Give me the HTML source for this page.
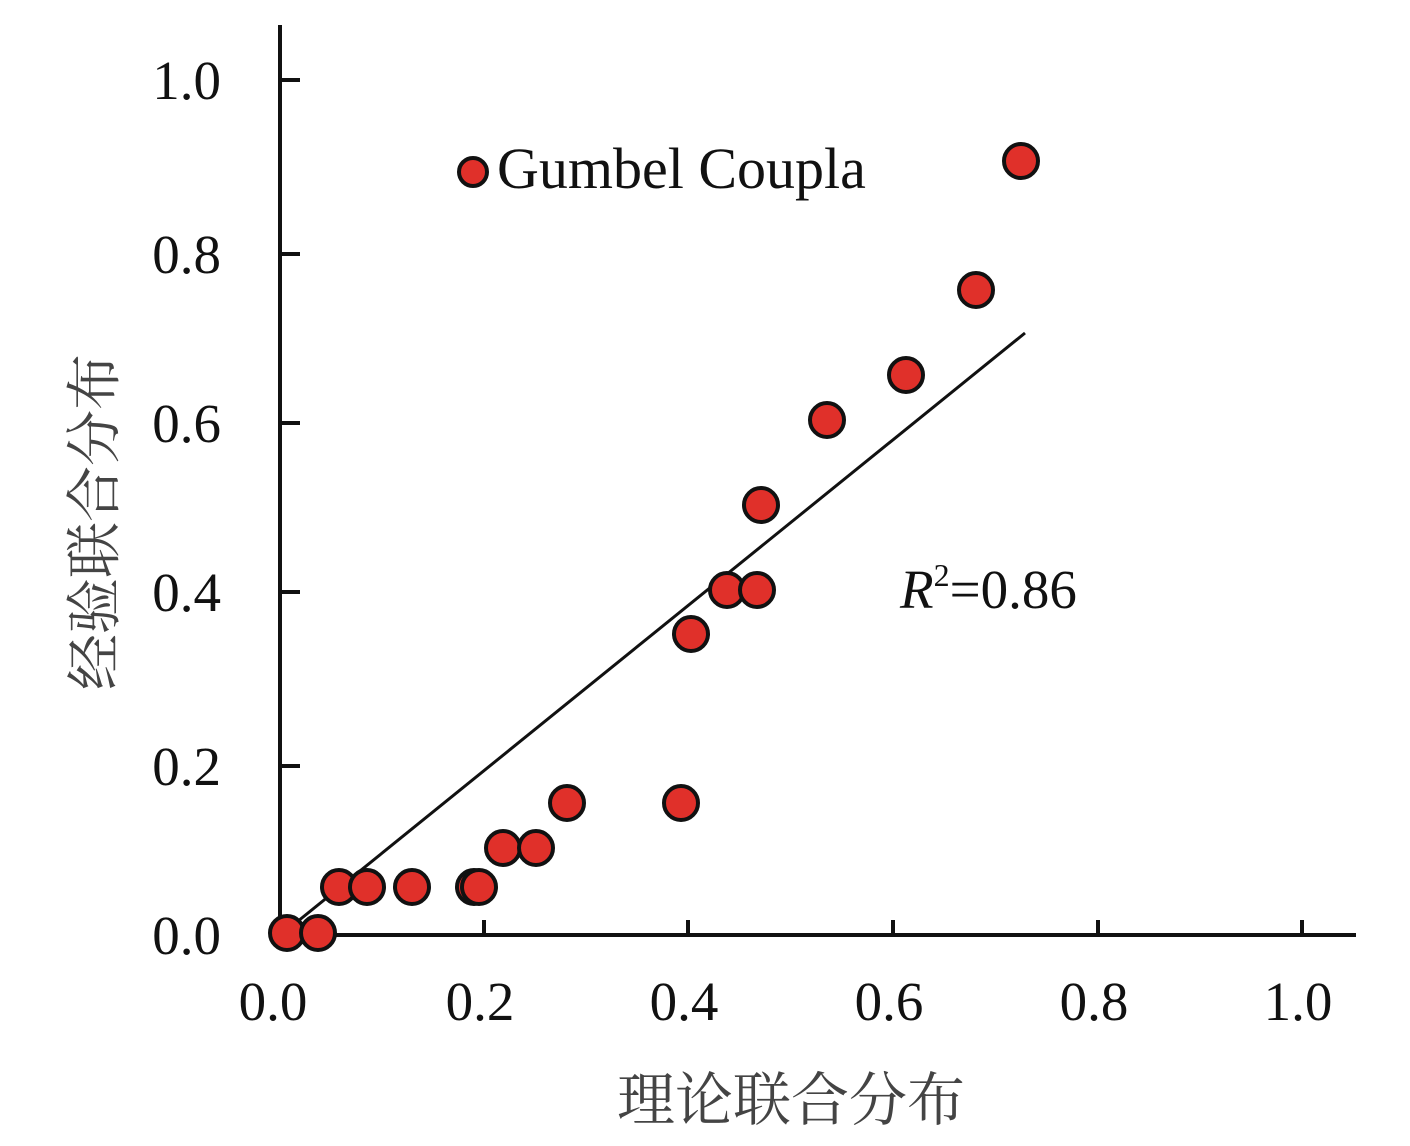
<!DOCTYPE html>
<html><head><meta charset="utf-8"><style>
html,body{margin:0;padding:0;background:#fff;}
svg{display:block;}
text{font-family:"Liberation Serif","Noto Serif CJK SC",serif;fill:#111;}
</style></head><body>
<svg width="1410" height="1146" viewBox="0 0 1410 1146" xmlns="http://www.w3.org/2000/svg">
<g stroke="#111" stroke-width="4" fill="none">
<line x1="280" y1="25" x2="280" y2="937"/>
<line x1="278" y1="935" x2="1356" y2="935"/>
<line x1="282" y1="80" x2="300" y2="80"/>
<line x1="282" y1="254" x2="300" y2="254"/>
<line x1="282" y1="423" x2="300" y2="423"/>
<line x1="282" y1="592" x2="300" y2="592"/>
<line x1="282" y1="766" x2="300" y2="766"/>
<line x1="484" y1="920" x2="484" y2="935"/>
<line x1="688" y1="920" x2="688" y2="935"/>
<line x1="893" y1="920" x2="893" y2="935"/>
<line x1="1098" y1="920" x2="1098" y2="935"/>
<line x1="1302" y1="920" x2="1302" y2="935"/>
</g>
<g font-size="55" text-anchor="end">
<text x="221" y="99">1.0</text>
<text x="221" y="273">0.8</text>
<text x="221" y="442">0.6</text>
<text x="221" y="611">0.4</text>
<text x="221" y="785">0.2</text>
<text x="221" y="954">0.0</text>
</g>
<g font-size="55" text-anchor="middle">
<text x="273" y="1020">0.0</text>
<text x="480" y="1020">0.2</text>
<text x="684" y="1020">0.4</text>
<text x="889" y="1020">0.6</text>
<text x="1094" y="1020">0.8</text>
<text x="1298" y="1020">1.0</text>
</g>
<text x="791" y="1120" font-size="58" text-anchor="middle" style="fill:#444">理论联合分布</text>
<text transform="translate(114,522) rotate(-90)" font-size="56" text-anchor="middle" style="fill:#444">经验联合分布</text>
<line x1="287" y1="930" x2="1025" y2="333" stroke="#111" stroke-width="3"/>
<g fill="#e0302a" stroke="#111" stroke-width="4">
<circle cx="287" cy="933" r="17"/><circle cx="318" cy="933" r="17"/>
<circle cx="339" cy="887" r="17"/><circle cx="367" cy="887" r="17"/>
<circle cx="412" cy="887" r="17"/><circle cx="474" cy="887" r="17"/>
<circle cx="479" cy="887" r="17"/><circle cx="503" cy="848" r="17"/>
<circle cx="536" cy="848" r="17"/><circle cx="567" cy="803" r="17"/>
<circle cx="681" cy="803" r="17"/><circle cx="691" cy="634" r="17"/>
<circle cx="727" cy="590" r="17"/><circle cx="757" cy="590" r="17"/>
<circle cx="761" cy="505" r="17"/><circle cx="827" cy="420" r="17"/>
<circle cx="906" cy="375" r="17"/><circle cx="976" cy="290" r="17"/>
<circle cx="1021" cy="161" r="17"/>
<circle cx="473" cy="172" r="14"/>
</g>
<text x="497" y="188" font-size="58">Gumbel Coupla</text>
<text x="900" y="608" font-size="55"><tspan font-style="italic">R</tspan><tspan font-size="32" dy="-22">2</tspan><tspan dy="22">=0.86</tspan></text>
</svg>
</body></html>
